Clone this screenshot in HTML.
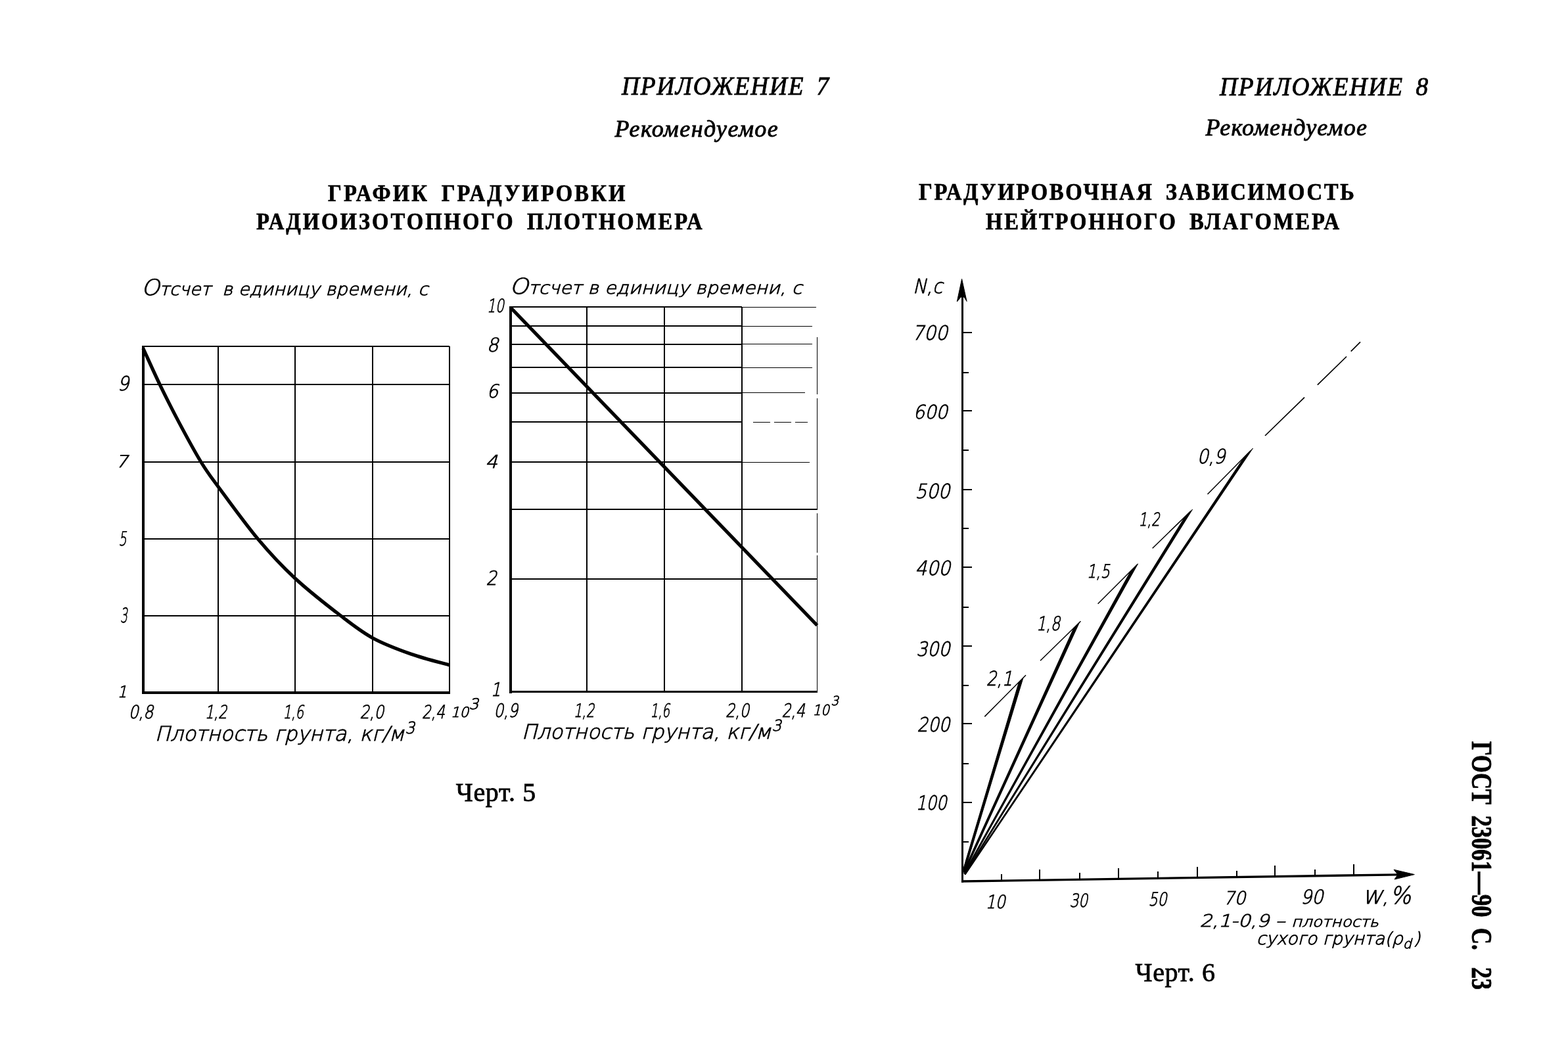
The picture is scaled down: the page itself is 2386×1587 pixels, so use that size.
<!DOCTYPE html>
<html lang="ru">
<head>
<meta charset="utf-8">
<title>ГОСТ 23061—90 С. 23</title>
<style>
html,body{margin:0;padding:0;background:#fff;}
body{width:2386px;height:1587px;position:relative;overflow:hidden;color:#000;font-family:"Liberation Serif","DejaVu Serif",serif;}
.t{position:absolute;white-space:nowrap;line-height:1;margin:0;padding:0;font-weight:normal;transform-origin:0 0;}
.app{font-style:italic;font-size:40.5px;-webkit-text-stroke:0.9px #000;}
.rec{font-style:italic;font-size:36px;-webkit-text-stroke:0.9px #000;}
.ttl{font-weight:bold;font-size:35.5px;-webkit-text-stroke:0.7px #000;}
.cap{font-size:40px;-webkit-text-stroke:0.8px #000;}
.side{font-weight:bold;font-size:44px;-webkit-text-stroke:0.9px #000;transform-origin:0 0;transform:rotate(90deg) scaleX(0.781);word-spacing:10.5px;}
svg{position:absolute;left:0;top:0;}
svg line, svg path{stroke:#000;stroke-linecap:butt;}
svg g.g text{font-family:"DejaVu Sans Light","DejaVu Sans","Liberation Sans",sans-serif;font-style:italic;fill:#000;stroke:#000;stroke-width:0.9px;}
</style>
</head>
<body>
<svg width="2386" height="1587" viewBox="0 0 2386 1587">
<line x1="217.6" y1="527.0" x2="684.0" y2="527.0" stroke-width="2.00"  shape-rendering="crispEdges"/>
<line x1="684.0" y1="527.0" x2="684.0" y2="1053.5" stroke-width="2.00"  shape-rendering="crispEdges"/>
<line x1="332.0" y1="527.0" x2="332.0" y2="1053.5" stroke-width="2.00"  shape-rendering="crispEdges"/>
<line x1="449.0" y1="527.0" x2="449.0" y2="1053.5" stroke-width="2.00"  shape-rendering="crispEdges"/>
<line x1="567.0" y1="527.0" x2="567.0" y2="1053.5" stroke-width="2.00"  shape-rendering="crispEdges"/>
<line x1="217.6" y1="585.0" x2="684.0" y2="585.0" stroke-width="2.00"  shape-rendering="crispEdges"/>
<line x1="217.6" y1="703.0" x2="684.0" y2="703.0" stroke-width="2.00"  shape-rendering="crispEdges"/>
<line x1="217.6" y1="820.0" x2="684.0" y2="820.0" stroke-width="2.00"  shape-rendering="crispEdges"/>
<line x1="217.6" y1="937.0" x2="684.0" y2="937.0" stroke-width="2.00"  shape-rendering="crispEdges"/>
<line x1="218.0" y1="526.0" x2="218.0" y2="1055.5" stroke-width="4.00"  shape-rendering="crispEdges"/>
<line x1="215.6" y1="1054.0" x2="685.0" y2="1054.0" stroke-width="4.00"  shape-rendering="crispEdges"/>
<path d="M217.8 530.0 C222.1 539.2 234.2 566.6 243.3 585.3 C252.4 604.0 261.8 622.8 272.2 642.4 C282.6 662.0 295.9 686.6 305.9 703.0 C315.9 719.4 317.5 720.9 332.0 740.5 C346.5 760.1 373.2 797.1 392.7 820.4 C412.2 843.6 428.0 860.6 449.0 880.0 C470.0 899.4 498.9 921.9 518.6 937.0 C538.3 952.1 549.3 961.0 567.0 970.7 C584.7 980.4 605.5 988.1 625.0 995.0 C644.5 1001.9 674.2 1009.2 684.0 1012.0" fill="none" stroke-width="5.2"/>
<line x1="777.0" y1="467.0" x2="1128.6" y2="467.0" stroke-width="2.00"  shape-rendering="crispEdges"/>
<line x1="1128.6" y1="467.5" x2="1242.4" y2="467.5" stroke-width="1.00"  shape-rendering="crispEdges"/>
<line x1="1243.5" y1="512.5" x2="1243.5" y2="600.0" stroke-width="1.00"  shape-rendering="crispEdges"/>
<line x1="1243.5" y1="606.0" x2="1243.5" y2="1052.5" stroke-width="1.00" stroke-dasharray="170 5 60 4 400" shape-rendering="crispEdges"/>
<line x1="893.0" y1="467.0" x2="893.0" y2="1052.5" stroke-width="2.00"  shape-rendering="crispEdges"/>
<line x1="1011.0" y1="467.0" x2="1011.0" y2="1052.5" stroke-width="2.00"  shape-rendering="crispEdges"/>
<line x1="1129.0" y1="467.0" x2="1129.0" y2="1052.5" stroke-width="2.00"  shape-rendering="crispEdges"/>
<line x1="777.0" y1="496.0" x2="1128.6" y2="496.0" stroke-width="2.00"  shape-rendering="crispEdges"/>
<line x1="1128.6" y1="496.5" x2="1235.7" y2="496.5" stroke-width="1.00"  shape-rendering="crispEdges"/>
<line x1="777.0" y1="524.0" x2="1128.6" y2="524.0" stroke-width="2.00"  shape-rendering="crispEdges"/>
<line x1="1128.6" y1="523.5" x2="1235.7" y2="523.5" stroke-width="1.00"  shape-rendering="crispEdges"/>
<line x1="777.0" y1="559.0" x2="1128.6" y2="559.0" stroke-width="2.00"  shape-rendering="crispEdges"/>
<line x1="1128.6" y1="559.5" x2="1235.7" y2="559.5" stroke-width="1.00"  shape-rendering="crispEdges"/>
<line x1="777.0" y1="598.0" x2="1128.6" y2="598.0" stroke-width="2.00"  shape-rendering="crispEdges"/>
<line x1="1128.6" y1="597.5" x2="1224.5" y2="597.5" stroke-width="1.00"  shape-rendering="crispEdges"/>
<line x1="777.0" y1="642.0" x2="1128.6" y2="642.0" stroke-width="2.00"  shape-rendering="crispEdges"/>
<line x1="1146.0" y1="642.5" x2="1228.6" y2="642.5" stroke-width="1.00" stroke-dasharray="26 6" shape-rendering="crispEdges"/>
<line x1="777.0" y1="703.0" x2="1128.6" y2="703.0" stroke-width="2.00"  shape-rendering="crispEdges"/>
<line x1="1128.6" y1="703.5" x2="1231.6" y2="703.5" stroke-width="1.00"  shape-rendering="crispEdges"/>
<line x1="777.0" y1="775.0" x2="1128.6" y2="775.0" stroke-width="2.00"  shape-rendering="crispEdges"/>
<line x1="1128.6" y1="775.0" x2="1243.4" y2="775.0" stroke-width="2.00"  shape-rendering="crispEdges"/>
<line x1="777.0" y1="881.0" x2="1128.6" y2="881.0" stroke-width="2.00"  shape-rendering="crispEdges"/>
<line x1="1128.6" y1="881.0" x2="1243.4" y2="881.0" stroke-width="2.00"  shape-rendering="crispEdges"/>
<line x1="777.0" y1="466.0" x2="777.0" y2="1054.5" stroke-width="4.00"  shape-rendering="crispEdges"/>
<line x1="775.0" y1="1052.5" x2="1244.4" y2="1052.5" stroke-width="3.00"  shape-rendering="crispEdges"/>
<line x1="778.0" y1="469.0" x2="1243.4" y2="951.5" stroke-width="5.20" />
<line x1="1464.5" y1="450.0" x2="1464.5" y2="1342.7" stroke-width="3.00"  shape-rendering="crispEdges"/>
<path d="M1463.6 424.5 L1456.3 459 L1462.1 452 L1467.1 452 L1471.1 458.5 Z" stroke="none" fill="#000"/>
<line x1="1463.1" y1="1341.0" x2="2128.0" y2="1330.8" stroke-width="3.30" />
<path d="M2152.3 1330.6 L2121 1323.2 L2127 1330.8 L2122 1338 Z" stroke="none" fill="#000"/>
<line x1="1464.6" y1="506.0" x2="1479.1" y2="506.0" stroke-width="2.00"  shape-rendering="crispEdges"/>
<line x1="1464.6" y1="625.0" x2="1479.1" y2="625.0" stroke-width="2.00"  shape-rendering="crispEdges"/>
<line x1="1464.6" y1="745.0" x2="1479.1" y2="745.0" stroke-width="2.00"  shape-rendering="crispEdges"/>
<line x1="1464.6" y1="863.0" x2="1479.1" y2="863.0" stroke-width="2.00"  shape-rendering="crispEdges"/>
<line x1="1464.6" y1="983.0" x2="1479.1" y2="983.0" stroke-width="2.00"  shape-rendering="crispEdges"/>
<line x1="1464.6" y1="1101.0" x2="1479.1" y2="1101.0" stroke-width="2.00"  shape-rendering="crispEdges"/>
<line x1="1464.6" y1="1221.0" x2="1479.1" y2="1221.0" stroke-width="2.00"  shape-rendering="crispEdges"/>
<line x1="1464.6" y1="567.0" x2="1474.1" y2="567.0" stroke-width="2.00"  shape-rendering="crispEdges"/>
<line x1="1464.6" y1="685.0" x2="1474.1" y2="685.0" stroke-width="2.00"  shape-rendering="crispEdges"/>
<line x1="1464.6" y1="804.0" x2="1474.1" y2="804.0" stroke-width="2.00"  shape-rendering="crispEdges"/>
<line x1="1464.6" y1="924.0" x2="1474.1" y2="924.0" stroke-width="2.00"  shape-rendering="crispEdges"/>
<line x1="1464.6" y1="1043.0" x2="1474.1" y2="1043.0" stroke-width="2.00"  shape-rendering="crispEdges"/>
<line x1="1464.6" y1="1162.0" x2="1474.1" y2="1162.0" stroke-width="2.00"  shape-rendering="crispEdges"/>
<line x1="1464.6" y1="1281.0" x2="1474.1" y2="1281.0" stroke-width="2.00"  shape-rendering="crispEdges"/>
<line x1="1524.0" y1="1340.1" x2="1524.0" y2="1330.1" stroke-width="2.00"  shape-rendering="crispEdges"/>
<line x1="1582.0" y1="1339.2" x2="1582.0" y2="1322.7" stroke-width="2.00"  shape-rendering="crispEdges"/>
<line x1="1643.0" y1="1338.3" x2="1643.0" y2="1328.3" stroke-width="2.00"  shape-rendering="crispEdges"/>
<line x1="1702.0" y1="1337.3" x2="1702.0" y2="1320.8" stroke-width="2.00"  shape-rendering="crispEdges"/>
<line x1="1762.0" y1="1336.4" x2="1762.0" y2="1326.4" stroke-width="2.00"  shape-rendering="crispEdges"/>
<line x1="1822.0" y1="1335.5" x2="1822.0" y2="1319.0" stroke-width="2.00"  shape-rendering="crispEdges"/>
<line x1="1882.0" y1="1334.6" x2="1882.0" y2="1324.6" stroke-width="2.00"  shape-rendering="crispEdges"/>
<line x1="1940.0" y1="1333.7" x2="1940.0" y2="1317.2" stroke-width="2.00"  shape-rendering="crispEdges"/>
<line x1="2001.0" y1="1332.8" x2="2001.0" y2="1322.8" stroke-width="2.00"  shape-rendering="crispEdges"/>
<line x1="2060.0" y1="1331.8" x2="2060.0" y2="1315.3" stroke-width="2.00"  shape-rendering="crispEdges"/>
<path d="M1468.2 1324.4 L1557.0 1031.3 L1550.4 1037.9 L1465.4 1323.6 Z" stroke="none" fill="#000"/>
<line x1="1498.3" y1="1090.4" x2="1561.0" y2="1027.3" stroke-width="1.50" />
<path d="M1468.1 1327.5 L1642.6 947.0 L1633.9 955.6 L1465.7 1326.5 Z" stroke="none" fill="#000"/>
<line x1="1583.0" y1="1005.3" x2="1644.5" y2="945.2" stroke-width="1.50" />
<path d="M1468.3 1329.4 L1731.5 857.9 L1720.6 868.7 L1466.7 1328.6 Z" stroke="none" fill="#000"/>
<line x1="1670.6" y1="918.7" x2="1730.7" y2="858.7" stroke-width="1.50" />
<path d="M1468.7 1330.4 L1814.5 775.2 L1803.1 786.2 L1467.3 1329.6 Z" stroke="none" fill="#000"/>
<line x1="1753.7" y1="834.3" x2="1812.0" y2="777.6" stroke-width="1.50" />
<path d="M1469.2 1330.9 L1906.4 682.2 L1892.8 696.0 L1467.8 1330.1 Z" stroke="none" fill="#000"/>
<line x1="1837.5" y1="752.0" x2="1903.0" y2="685.7" stroke-width="1.50" />
<line x1="1925.0" y1="663.0" x2="1985.0" y2="604.6" stroke-width="1.70" />
<line x1="2004.8" y1="585.6" x2="2049.0" y2="542.5" stroke-width="1.70" />
<line x1="2055.7" y1="534.7" x2="2070.0" y2="520.4" stroke-width="1.70" />
<g class="g">
<text x="214.9" y="448.5" font-size="26.0" textLength="436.3" lengthAdjust="spacingAndGlyphs"><tspan font-size="33.6">О</tspan>тсчет&#160; в единицу времени, с</text>
<text x="178.7" y="594.0" font-size="29.9" textLength="17.5" lengthAdjust="spacingAndGlyphs">9</text>
<text x="176.0" y="710.5" font-size="25.4" textLength="18.4" lengthAdjust="spacingAndGlyphs">7</text>
<text x="180.5" y="829.6" font-size="29.6" textLength="12.1" lengthAdjust="spacingAndGlyphs">5</text>
<text x="182.9" y="947.0" font-size="30.6" textLength="10.9" lengthAdjust="spacingAndGlyphs">3</text>
<text x="178.7" y="1060.7" font-size="24.4" textLength="14.2" lengthAdjust="spacingAndGlyphs">1</text>
<text x="195.7" y="1093.0" font-size="27.8" textLength="37.5" lengthAdjust="spacingAndGlyphs">0,8</text>
<text x="311.7" y="1093.0" font-size="27.8" textLength="33.9" lengthAdjust="spacingAndGlyphs">1,2</text>
<text x="430.6" y="1093.0" font-size="27.8" textLength="31.5" lengthAdjust="spacingAndGlyphs">1,6</text>
<text x="547.5" y="1093.0" font-size="27.8" textLength="36.7" lengthAdjust="spacingAndGlyphs">2,0</text>
<text x="642.1" y="1093.0" font-size="27.8" textLength="34.8" lengthAdjust="spacingAndGlyphs">2,4</text>
<text x="685.7" y="1090.6" font-size="21.4" textLength="27.5" lengthAdjust="spacingAndGlyphs">10</text>
<text x="713.5" y="1079.0" font-size="22.6" textLength="14.7" lengthAdjust="spacingAndGlyphs">3</text>
<text x="235.6" y="1127.0" font-size="30.7" textLength="379.6" lengthAdjust="spacingAndGlyphs">Плотность грунта, кг/м</text>
<text x="616.5" y="1116.0" font-size="24.7" textLength="14.7" lengthAdjust="spacingAndGlyphs">3</text>
<text x="775.3" y="447.2" font-size="26.0" textLength="445.1" lengthAdjust="spacingAndGlyphs"><tspan font-size="33.2">О</tspan>тсчет в единицу времени, с</text>
<text x="741.0" y="475.3" font-size="28.1" textLength="25.8" lengthAdjust="spacingAndGlyphs">10</text>
<text x="740.7" y="534.7" font-size="29.1" textLength="17.6" lengthAdjust="spacingAndGlyphs">8</text>
<text x="740.8" y="605.4" font-size="28.0" textLength="17.4" lengthAdjust="spacingAndGlyphs">6</text>
<text x="738.5" y="711.7" font-size="27.0" textLength="18.6" lengthAdjust="spacingAndGlyphs">4</text>
<text x="739.5" y="890.3" font-size="29.8" textLength="16.6" lengthAdjust="spacingAndGlyphs">2</text>
<text x="746.7" y="1058.7" font-size="28.4" textLength="15.2" lengthAdjust="spacingAndGlyphs">1</text>
<text x="751.5" y="1090.6" font-size="28.3" textLength="36.6" lengthAdjust="spacingAndGlyphs">0,9</text>
<text x="872.7" y="1090.6" font-size="28.3" textLength="31.9" lengthAdjust="spacingAndGlyphs">1,2</text>
<text x="989.6" y="1090.6" font-size="28.3" textLength="29.6" lengthAdjust="spacingAndGlyphs">1,6</text>
<text x="1104.1" y="1090.6" font-size="28.3" textLength="36.0" lengthAdjust="spacingAndGlyphs">2,0</text>
<text x="1189.5" y="1090.6" font-size="28.3" textLength="35.6" lengthAdjust="spacingAndGlyphs">2,4</text>
<text x="1236.6" y="1088.0" font-size="21.9" textLength="25.5" lengthAdjust="spacingAndGlyphs">10</text>
<text x="1264.5" y="1073.0" font-size="19.2" textLength="11.6" lengthAdjust="spacingAndGlyphs">3</text>
<text x="793.7" y="1123.7" font-size="30.5" textLength="379.5" lengthAdjust="spacingAndGlyphs">Плотность грунта, кг/м</text>
<text x="1174.5" y="1112.0" font-size="23.3" textLength="14.5" lengthAdjust="spacingAndGlyphs">3</text>
<text x="1389.1" y="445.8" font-size="30.3" textLength="45.2" lengthAdjust="spacingAndGlyphs">N,c</text>
<text x="1388.0" y="517.0" font-size="30.2" textLength="54.0" lengthAdjust="spacingAndGlyphs">700</text>
<text x="1389.8" y="636.5" font-size="28.9" textLength="52.2" lengthAdjust="spacingAndGlyphs">600</text>
<text x="1392.6" y="758.0" font-size="30.3" textLength="52.9" lengthAdjust="spacingAndGlyphs">500</text>
<text x="1392.6" y="875.0" font-size="30.2" textLength="53.6" lengthAdjust="spacingAndGlyphs">400</text>
<text x="1394.3" y="997.5" font-size="29.9" textLength="51.2" lengthAdjust="spacingAndGlyphs">300</text>
<text x="1395.5" y="1112.8" font-size="29.9" textLength="50.0" lengthAdjust="spacingAndGlyphs">200</text>
<text x="1393.8" y="1231.6" font-size="29.9" textLength="47.0" lengthAdjust="spacingAndGlyphs">100</text>
<text x="1821.7" y="705.3" font-size="30.2" textLength="42.8" lengthAdjust="spacingAndGlyphs">0,9</text>
<text x="1732.6" y="800.3" font-size="27.8" textLength="32.2" lengthAdjust="spacingAndGlyphs">1,2</text>
<text x="1653.7" y="878.5" font-size="28.1" textLength="35.2" lengthAdjust="spacingAndGlyphs">1,5</text>
<text x="1577.0" y="958.8" font-size="29.4" textLength="36.2" lengthAdjust="spacingAndGlyphs">1,8</text>
<text x="1500.8" y="1042.6" font-size="30.3" textLength="39.9" lengthAdjust="spacingAndGlyphs">2,1</text>
<text x="1499.8" y="1381.5" font-size="28.1" textLength="30.0" lengthAdjust="spacingAndGlyphs">10</text>
<text x="1627.5" y="1379.5" font-size="28.1" textLength="27.7" lengthAdjust="spacingAndGlyphs">30</text>
<text x="1747.5" y="1377.5" font-size="28.1" textLength="28.2" lengthAdjust="spacingAndGlyphs">50</text>
<text x="1861.7" y="1375.7" font-size="27.6" textLength="33.7" lengthAdjust="spacingAndGlyphs">70</text>
<text x="1979.0" y="1374.8" font-size="29.4" textLength="34.5" lengthAdjust="spacingAndGlyphs">90</text>
<text x="2072.9" y="1374.5" font-size="28.3" textLength="39.8" lengthAdjust="spacingAndGlyphs">W,</text>
<text x="2115.0" y="1374.5" font-size="36.4" textLength="32.1" lengthAdjust="spacingAndGlyphs">%</text>
<text x="1825.6" y="1409.5" font-size="26.0" textLength="272.5" lengthAdjust="spacingAndGlyphs">2,1-0,9 – <tspan font-size="21.5">плотность</tspan></text>
<text x="1911.7" y="1437.2" font-size="26.0" textLength="249.6" lengthAdjust="spacingAndGlyphs">сухого грунта(ρ<tspan dy="6" font-size="20">d</tspan><tspan dy="-6" dx="3">)</tspan></text>
</g>
</svg>
<p class="t app" id="app7" style="left:946.4px;top:111.0px;letter-spacing:1.89px;word-spacing:8.0px;transform:scaleX(0.920);">ПРИЛОЖЕНИЕ 7</p>
<p class="t rec" id="rec7" style="left:935.4px;top:178.0px;letter-spacing:1.42px;word-spacing:0.0px;transform:scaleX(1.000);">Рекомендуемое</p>
<h1 class="t ttl" id="t1a" style="left:499.4px;top:276.5px;letter-spacing:3.41px;word-spacing:8.0px;transform:scaleX(0.920);">ГРАФИК ГРАДУИРОВКИ</h1>
<h1 class="t ttl" id="t1b" style="left:390.4px;top:320.0px;letter-spacing:3.23px;word-spacing:8.0px;transform:scaleX(0.920);">РАДИОИЗОТОПНОГО ПЛОТНОМЕРА</h1>
<p class="t cap" id="cap5" style="left:693.8px;top:1186.0px;letter-spacing:0.62px;word-spacing:0.0px;transform:scaleX(1.000);">Черт. 5</p>
<p class="t app" id="app8" style="left:1855.6px;top:112.0px;letter-spacing:2.07px;word-spacing:8.0px;transform:scaleX(0.920);">ПРИЛОЖЕНИЕ 8</p>
<p class="t rec" id="rec8" style="left:1834.4px;top:176.0px;letter-spacing:1.18px;word-spacing:0.0px;transform:scaleX(1.000);">Рекомендуемое</p>
<h1 class="t ttl" id="t2a" style="left:1397.7px;top:275.0px;letter-spacing:2.88px;word-spacing:8.0px;transform:scaleX(0.920);">ГРАДУИРОВОЧНАЯ ЗАВИСИМОСТЬ</h1>
<h1 class="t ttl" id="t2b" style="left:1500.0px;top:320.0px;letter-spacing:3.02px;word-spacing:8.0px;transform:scaleX(0.920);">НЕЙТРОННОГО ВЛАГОМЕРА</h1>
<p class="t cap" id="cap6" style="left:1727.6px;top:1460.0px;letter-spacing:0.60px;word-spacing:0.0px;transform:scaleX(1.000);">Черт. 6</p>
<p class="t side" id="side" style="left:2275.7px;top:1127.6px;">ГОСТ 23061—90 С. <span style="margin-left:12px">23</span></p>
</body>
</html>
